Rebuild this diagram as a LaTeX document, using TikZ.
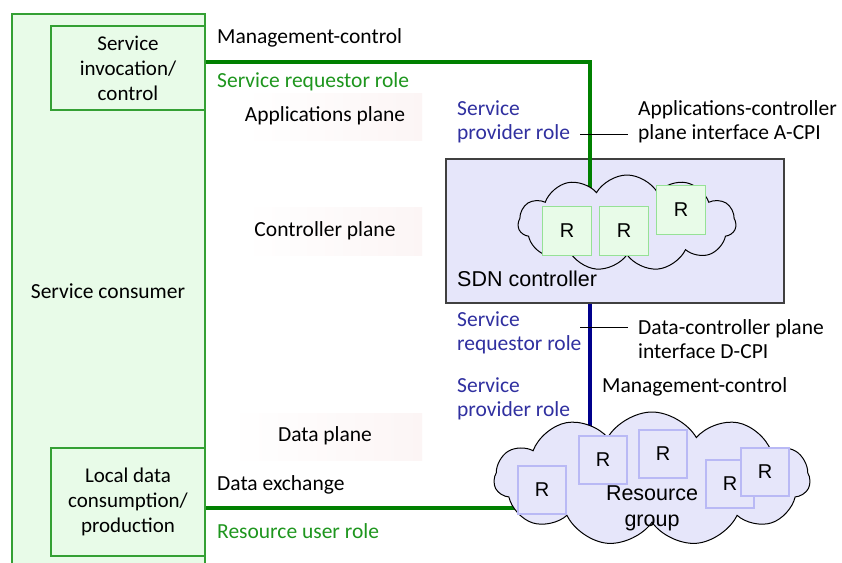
\documentclass[tikz,border=0pt]{standalone}
\usepackage{fontspec}
\setmainfont{Carlito}
\newfontfamily\arialfont{Liberation Sans}
\usetikzlibrary{shapes.symbols,calc}

\definecolor{consumerfill}{RGB}{232,251,232}
\definecolor{consumerline}{RGB}{52,160,52}
\definecolor{greenlink}{RGB}{0,128,0}
\definecolor{bluelink}{RGB}{0,0,140}
\definecolor{lavender}{RGB}{230,230,250}
\definecolor{roleblue}{RGB}{48,48,160}
\definecolor{rolegreen}{RGB}{30,150,30}
\definecolor{rgreenline}{RGB}{150,225,150}
\definecolor{rblueline}{RGB}{185,185,245}
\definecolor{planetint}{RGB}{252,245,245}

\tikzset{
  lbl/.style={font=\fontsize{21.5}{24}\selectfont, inner sep=0pt, align=left},
  lblc/.style={lbl, align=center},
  bluerole/.style={lbl, text=roleblue},
  greenrole/.style={lbl, text=rolegreen},
  consumerbox/.style={draw=consumerline, line width=1.6pt, fill=consumerfill},
  innerbox/.style={draw=consumerline, line width=1.6pt, fill=consumerfill,
    font=\fontsize{21}{25}\selectfont, align=center, inner sep=0pt},
  planebg/.style={left color=white, right color=planetint, draw=none},
  sdnbox/.style={draw=black!75, line width=1.4pt, fill=lavender},
  cloudshape/.style={cloud, cloud puffs=11, cloud puff arc=120, draw=black,
    line width=1pt, fill=lavender, inner sep=0pt},
  rgreen/.style={draw=rgreenline, line width=1.2pt, fill=consumerfill,
    minimum width=49pt, minimum height=49pt, inner sep=0pt,
    font=\arialfont\fontsize{20}{24}\selectfont},
  rblue/.style={draw=rblueline, line width=1.2pt, fill=lavender,
    minimum width=48pt, minimum height=48pt, inner sep=0pt,
    font=\arialfont\fontsize{20}{24}\selectfont},
  greenwire/.style={draw=greenlink, line width=4.5pt},
  bluewire/.style={draw=bluelink, line width=4.5pt},
  tick/.style={draw=black, line width=0.9pt},
}

\begin{document}
\begin{tikzpicture}[x=1pt, y=-1pt]
\clip (0,0) rectangle (842,562);
\fill[white] (0,0) rectangle (842,562);

% plane label backgrounds
\shade[planebg] (245,93) rectangle (422,140);
\shade[planebg] (245,207) rectangle (422,255);
\shade[planebg] (230,413) rectangle (422,460);

% service consumer and its two functions
\draw[consumerbox] (12,14) rectangle (205,580);
\node[innerbox, minimum width=154pt, minimum height=84pt] (svcinv) at (128,68)
  {Service\\invocation/\\control};
\node[innerbox, minimum width=154pt, minimum height=108pt] (localdata) at (128,502)
  {Local data\\consumption/\\production};
\node[lblc] (consumer) at (108,291) {Service consumer};

% SDN controller box
\node[sdnbox, minimum width=338pt, minimum height=144pt, inner sep=0pt] (sdn) at (615,231) {};

% anchor points of the connectors inside the clouds
\coordinate (ctrlin) at (590,215);
\coordinate (resin) at (590,450);
\coordinate (resleft) at (530,508);

% connectors
\draw[greenwire] (svcinv.east |- 0,62) -| (ctrlin);
\draw[bluewire] (sdn.south -| ctrlin) -- (resin);
\draw[greenwire] (localdata.east |- resleft) -- (resleft);

% controller cloud with its resources
\node[cloudshape, minimum width=218pt, minimum height=96pt] (ctrlcloud) at (627,223) {};
\node[rgreen] (cr1) at (567,231) {R};
\node[rgreen] (cr2) at (624,231) {R};
\node[rgreen] (cr3) at (681,210) {R};
\node[lbl, anchor=west, font=\arialfont\fontsize{21.5}{24}\selectfont] (sdnlabel) at (457,279) {SDN controller};

% resource group cloud
\node[cloudshape, minimum width=316pt, minimum height=134pt] (rescloud) at (652,479) {};
\node[rblue] (rr1) at (542,490) {R};
\node[rblue] (rr2) at (603,460) {R};
\node[rblue] (rr3) at (663,454) {R};
\node[rblue] (rr4) at (730,484) {R};
\node[rblue] (rr5) at (765,472) {R};
\node[lblc, font=\arialfont\fontsize{21.5}{26}\selectfont] (resgroup) at (652,508) {Resource\\group};

% labels along the upper link
\node[lbl, anchor=west] (mc1) at (217,38) {Management-control};
\node[greenrole, anchor=west] (srr1) at (217,82) {Service requestor role};
\node[lblc] (appplane) at (325,116) {Applications plane};
\node[bluerole, anchor=west] (spr1) at (457,122) {Service\\provider role};
\node[lbl, anchor=west] (acpi) at (638,122) {Applications-controller\\plane interface A-CPI};
\coordinate (acpitick) at (580,134);
\draw[tick] (acpitick) -- ([xshift=-10pt]acpi.west |- acpitick);

\node[lblc] (ctrlplane) at (325,231) {Controller plane};

% labels along the lower link
\node[bluerole, anchor=west] (srr2) at (457,333) {Service\\requestor role};
\node[lbl, anchor=west] (dcpi) at (638,339) {Data-controller plane\\interface D-CPI};
\coordinate (dcpitick) at (580,327);
\draw[tick] (dcpitick) -- ([xshift=-10pt]dcpi.west |- dcpitick);
\node[bluerole, anchor=west] (spr2) at (457,399) {Service\\provider role};
\node[lbl, anchor=west] (mc2) at (602,387) {Management-control};

\node[lblc] (dataplane) at (325,436) {Data plane};
\node[lbl, anchor=west] (dx) at (217,485) {Data exchange};
\node[greenrole, anchor=west] (rur) at (217,531) {Resource user role};
\end{tikzpicture}
\end{document}
